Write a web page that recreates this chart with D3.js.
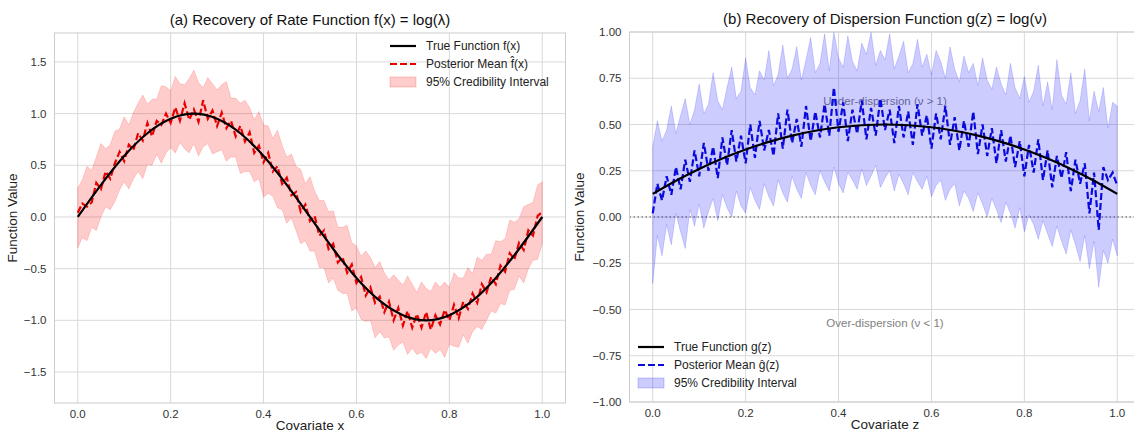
<!DOCTYPE html>
<html>
<head>
<meta charset="utf-8">
<script src="https://cdn.jsdelivr.net/npm/d3@7"></script>
<style>
  body { margin: 0; background: #fff; }
  svg { display: block; font-family: "Liberation Sans", Arial, sans-serif; }
</style>
</head>
<body>
<div id="chart"></div>
<script>
// Sampling grids (covariate values)
const fineGrid = d3.range(101).map(i => i / 100);
const coarseGrid = d3.range(21).map(i => i / 20);

// Panel (a): rate function f(x)
const trueF = [0, 0.31, 0.59, 0.81, 0.95, 1.0, 0.95, 0.81, 0.59, 0.31, 0,
  -0.31, -0.59, -0.81, -0.95, -1.0, -0.95, -0.81, -0.59, -0.31, 0];
const meanF = [0.04, 0.13, 0.10, 0.14, 0.33, 0.27, 0.44, 0.37, 0.52, 0.63,
  0.54, 0.70, 0.65, 0.81, 0.74, 0.91, 0.78, 0.93, 0.89, 1.00,
  0.91, 1.06, 0.93, 1.10, 0.94, 1.04, 0.92, 1.13, 0.95, 1.03,
  0.88, 1.01, 0.86, 0.93, 0.78, 0.88, 0.73, 0.82, 0.62, 0.69,
  0.53, 0.62, 0.44, 0.49, 0.32, 0.38, 0.21, 0.24, 0.05, 0.12,
  -0.04, 0.01, -0.18, -0.13, -0.31, -0.26, -0.44, -0.39, -0.54, -0.46,
  -0.64, -0.58, -0.76, -0.68, -0.83, -0.77, -0.92, -0.82, -1.00, -0.88,
  -1.05, -0.91, -1.07, -0.94, -1.07, -0.92, -1.09, -0.95, -1.04, -0.90,
  -1.00, -0.85, -0.98, -0.82, -0.89, -0.74, -0.83, -0.65, -0.73, -0.58,
  -0.65, -0.47, -0.53, -0.35, -0.41, -0.25, -0.32, -0.13, -0.18, 0.01, 0.05];
const upperF = [0.28, 0.36, 0.49, 0.45, 0.58, 0.71, 0.66, 0.70, 0.83, 0.85,
  0.97, 0.89, 1.01, 1.10, 1.18, 1.09, 1.14, 1.14, 1.27, 1.26,
  1.22, 1.36, 1.29, 1.28, 1.34, 1.42, 1.30, 1.25, 1.35, 1.29,
  1.23, 1.28, 1.31, 1.15, 1.15, 1.10, 1.13, 1.06, 0.94, 1.02,
  0.89, 0.88, 0.76, 0.84, 0.69, 0.58, 0.61, 0.49, 0.46, 0.32,
  0.39, 0.25, 0.16, 0.16, 0.05, 0.06, -0.10, -0.10, -0.08, -0.25,
  -0.28, -0.38, -0.33, -0.39, -0.49, -0.43, -0.54, -0.61, -0.56, -0.61,
  -0.66, -0.57, -0.65, -0.73, -0.63, -0.69, -0.72, -0.63, -0.68, -0.63,
  -0.68, -0.54, -0.59, -0.59, -0.49, -0.55, -0.39, -0.42, -0.36, -0.36,
  -0.23, -0.24, -0.21, -0.03, -0.05, -0.02, 0.10, 0.12, 0.14, 0.31, 0.34];
const lowerF = [-0.30, -0.20, -0.23, -0.10, -0.13, 0.00, 0.10, 0.07, 0.15, 0.26,
  0.34, 0.27, 0.37, 0.44, 0.37, 0.51, 0.50, 0.61, 0.52, 0.62,
  0.67, 0.62, 0.72, 0.66, 0.62, 0.71, 0.59, 0.68, 0.71, 0.61,
  0.63, 0.65, 0.54, 0.58, 0.58, 0.42, 0.44, 0.44, 0.34, 0.37,
  0.19, 0.23, 0.20, 0.09, 0.07, -0.06, -0.01, -0.13, -0.26, -0.23,
  -0.33, -0.33, -0.49, -0.49, -0.64, -0.59, -0.71, -0.74, -0.74, -0.91,
  -0.88, -0.99, -1.01, -1.00, -1.17, -1.11, -1.17, -1.16, -1.29, -1.24,
  -1.21, -1.33, -1.27, -1.33, -1.31, -1.37, -1.27, -1.32, -1.28, -1.36,
  -1.23, -1.25, -1.26, -1.14, -1.22, -1.11, -1.06, -1.09, -1.00, -0.91,
  -0.93, -0.84, -0.85, -0.71, -0.70, -0.57, -0.64, -0.50, -0.42, -0.41, -0.26];

// Panel (b): dispersion function g(z)
const trueG = [0.125, 0.196, 0.26, 0.316, 0.365, 0.406, 0.44, 0.466, 0.485, 0.496, 0.5,
  0.496, 0.485, 0.466, 0.44, 0.406, 0.365, 0.316, 0.26, 0.196, 0.125];
const meanG = [0.02, 0.18, 0.09, 0.22, 0.12, 0.27, 0.15, 0.31, 0.19, 0.36,
  0.22, 0.40, 0.25, 0.38, 0.21, 0.43, 0.28, 0.47, 0.30, 0.44,
  0.29, 0.50, 0.32, 0.52, 0.36, 0.47, 0.33, 0.56, 0.37, 0.58,
  0.40, 0.53, 0.38, 0.60, 0.41, 0.57, 0.43, 0.61, 0.44, 0.70,
  0.46, 0.62, 0.41, 0.58, 0.45, 0.63, 0.42, 0.59, 0.44, 0.64,
  0.47, 0.58, 0.40, 0.60, 0.43, 0.57, 0.39, 0.61, 0.44, 0.55,
  0.37, 0.56, 0.42, 0.60, 0.39, 0.54, 0.36, 0.52, 0.38, 0.57,
  0.34, 0.50, 0.33, 0.48, 0.29, 0.47, 0.30, 0.44, 0.27, 0.41,
  0.22, 0.39, 0.24, 0.42, 0.20, 0.36, 0.16, 0.33, 0.21, 0.35,
  0.14, 0.31, 0.18, 0.29, 0.02, 0.24, -0.07, 0.27, 0.20, 0.24, 0.17];
const upperG = [0.38, 0.52, 0.41, 0.47, 0.60, 0.45, 0.55, 0.64, 0.50, 0.58,
  0.72, 0.56, 0.61, 0.78, 0.63, 0.58, 0.70, 0.81, 0.64, 0.68,
  0.86, 0.70, 0.66, 0.79, 0.74, 0.90, 0.71, 0.77, 0.93, 0.75,
  0.80, 0.92, 0.74, 0.85, 0.97, 0.78, 0.83, 0.99, 0.79, 1.00,
  0.86, 0.81, 0.98, 0.84, 0.79, 0.94, 0.88, 1.00, 0.82, 0.90,
  0.85, 0.99, 0.80, 0.87, 0.95, 0.78, 0.83, 0.96, 0.81, 0.88,
  0.77, 0.90, 0.84, 0.75, 0.92, 0.80, 0.73, 0.87, 0.78, 0.83,
  0.71, 0.86, 0.74, 0.69, 0.81, 0.72, 0.66, 0.83, 0.70, 0.64,
  0.76, 0.62, 0.68, 0.82, 0.60, 0.73, 0.58, 0.85, 0.66, 0.61,
  0.78, 0.56, 0.63, 0.80, 0.52, 0.68, 0.57, 0.70, 0.48, 0.62, 0.60];
const lowerG = [-0.36, -0.10, -0.21, -0.04, -0.15, 0.02, -0.08, -0.17, 0.04, -0.05,
  0.07, -0.06, 0.03, 0.10, -0.02, 0.12, 0.05, 0.00, 0.14, 0.06,
  0.02, 0.16, 0.09, 0.04, 0.18, 0.11, 0.06, 0.20, 0.13, 0.08,
  0.22, 0.15, 0.10, 0.24, 0.17, 0.12, 0.25, 0.19, 0.14, 0.27,
  0.18, 0.13, 0.24, 0.20, 0.15, 0.26, 0.17, 0.22, 0.28, 0.16,
  0.21, 0.25, 0.14, 0.23, 0.18, 0.12, 0.24, 0.19, 0.15, 0.22,
  0.11, 0.17, 0.20, 0.09, 0.15, 0.18, 0.06, 0.14, 0.10, 0.03,
  0.13, 0.07, 0.00, 0.10, 0.04, -0.03, 0.08, 0.02, -0.06, 0.05,
  -0.08, 0.01, -0.04, -0.12, -0.02, -0.09, -0.16, -0.05, -0.13, -0.20,
  -0.07, -0.15, -0.24, -0.10, -0.28, -0.13, -0.38, -0.18, -0.25, -0.12, -0.21];

// Tick values
const xTicks = [0, 0.2, 0.4, 0.6, 0.8, 1.0];
const yTicksF = [-1.5, -1.0, -0.5, 0, 0.5, 1.0, 1.5];
const yTicksG = [-1, -0.75, -0.5, -0.25, 0, 0.25, 0.5, 0.75, 1];

const width = 1134, height = 435;
const svg = d3.select("#chart")
    .append("svg")
    .attr("width", width)
    .attr("height", height);

function drawPanel(cfg) {
    const x = d3.scaleLinear().domain([-0.05, 1.05]).range([cfg.left, cfg.right]);
    const y = d3.scaleLinear().domain(cfg.yDomain).range([cfg.bottom, cfg.top]);
    const g = svg.append("g");

    // clip to plot area
    g.append("clipPath").attr("id", cfg.id + "-clip")
        .append("rect")
        .attr("x", cfg.left).attr("y", cfg.top)
        .attr("width", cfg.right - cfg.left).attr("height", cfg.bottom - cfg.top);

    // grid lines
    g.append("g").selectAll("line").data(xTicks).join("line")
        .attr("x1", d => x(d)).attr("x2", d => x(d))
        .attr("y1", cfg.top).attr("y2", cfg.bottom)
        .attr("stroke", "#d9d9d9").attr("stroke-width", 1);
    g.append("g").selectAll("line").data(cfg.yTicks).join("line")
        .attr("x1", cfg.left).attr("x2", cfg.right)
        .attr("y1", d => y(d)).attr("y2", d => y(d))
        .attr("stroke", "#d9d9d9").attr("stroke-width", 1);

    // tick labels
    g.append("g").selectAll("text").data(xTicks).join("text")
        .attr("x", d => x(d)).attr("y", cfg.bottom + 15)
        .attr("text-anchor", "middle")
        .attr("font-size", "11.5px").attr("fill", "#333")
        .text(d => d3.format(".1f")(d));
    g.append("g").selectAll("text").data(cfg.yTicks).join("text")
        .attr("x", cfg.left - 8).attr("y", d => y(d) + 4)
        .attr("text-anchor", "end")
        .attr("font-size", "11.5px").attr("fill", "#333")
        .text(d => d3.format(cfg.yFormat)(d).replace("-", "\u2212"));

    // axis labels + title
    g.append("text")
        .attr("x", (cfg.left + cfg.right) / 2).attr("y", cfg.bottom + 27)
        .attr("text-anchor", "middle").attr("font-size", "13.5px").attr("fill", "#222")
        .text(cfg.xLabel);
    g.append("text")
        .attr("transform", `translate(${cfg.yLabelX},${(cfg.top + cfg.bottom) / 2}) rotate(-90)`)
        .attr("text-anchor", "middle").attr("font-size", "13.5px").attr("fill", "#222")
        .text("Function Value");
    g.append("text")
        .attr("x", (cfg.left + cfg.right) / 2).attr("y", cfg.top - 8)
        .attr("text-anchor", "middle").attr("font-size", "15px").attr("fill", "#111")
        .text(cfg.title);

    const plot = g.append("g").attr("clip-path", `url(#${cfg.id}-clip)`);

    // annotations sit under the data
    (cfg.notes || []).forEach(n => {
        plot.append("text")
            .attr("x", x(n.x)).attr("y", y(n.y))
            .attr("text-anchor", "middle").attr("dominant-baseline", "middle")
            .attr("font-size", "11.5px").attr("fill", "#808080")
            .text(n.text);
    });
    if (cfg.zeroLine) {
        plot.append("line")
            .attr("x1", cfg.left).attr("x2", cfg.right)
            .attr("y1", y(0)).attr("y2", y(0))
            .attr("stroke", "#555").attr("stroke-width", 1.2)
            .attr("stroke-dasharray", "1.5,2.5");
    }

    // credibility band
    const area = d3.area()
        .x((d, i) => x(fineGrid[i]))
        .y0((d, i) => y(cfg.lower[i]))
        .y1(d => y(d));
    plot.append("path")
        .datum(cfg.upper)
        .attr("d", area)
        .attr("fill", cfg.bandColor)
        .attr("stroke", cfg.bandColor)
        .attr("stroke-width", 0.8);

    // posterior mean
    const meanLine = d3.line()
        .x((d, i) => x(fineGrid[i]))
        .y(d => y(d));
    plot.append("path")
        .datum(cfg.mean)
        .attr("d", meanLine)
        .attr("fill", "none")
        .attr("stroke", cfg.meanColor)
        .attr("stroke-width", 2.2)
        .attr("stroke-dasharray", "7,3");

    // true function
    const trueLine = d3.line()
        .x((d, i) => x(coarseGrid[i]))
        .y(d => y(d))
        .curve(d3.curveNatural);
    plot.append("path")
        .datum(cfg.truth)
        .attr("d", trueLine)
        .attr("fill", "none")
        .attr("stroke", "#000")
        .attr("stroke-width", 2.2);

    // frame
    g.append("rect")
        .attr("x", cfg.left).attr("y", cfg.top)
        .attr("width", cfg.right - cfg.left).attr("height", cfg.bottom - cfg.top)
        .attr("fill", "none").attr("stroke", "#cccccc").attr("stroke-width", 1);

    // legend
    const lg = g.append("g").attr("font-size", "12px").attr("fill", "#222");
    const lx = cfg.legend.x, ly = cfg.legend.y, step = 18;
    lg.append("line").attr("x1", lx).attr("x2", lx + 26).attr("y1", ly).attr("y2", ly)
        .attr("stroke", "#000").attr("stroke-width", 2.2);
    lg.append("line").attr("x1", lx).attr("x2", lx + 26).attr("y1", ly + step).attr("y2", ly + step)
        .attr("stroke", cfg.meanColor).attr("stroke-width", 2.2).attr("stroke-dasharray", "7,3");
    lg.append("rect").attr("x", lx).attr("y", ly + 2 * step - 5).attr("width", 26).attr("height", 10)
        .attr("fill", cfg.bandColor).attr("stroke", cfg.bandColor);
    cfg.legendLabels.forEach((t, i) => {
        lg.append("text").attr("x", lx + 36).attr("y", ly + i * step + 4).text(t);
    });
}

drawPanel({
    id: "pa",
    left: 54.5, right: 565.5, top: 33, bottom: 403,
    yDomain: [-1.80, 1.78], yTicks: yTicksF, yFormat: ".1f",
    title: "(a) Recovery of Rate Function f(x) = log(\u03bb)",
    xLabel: "Covariate x", yLabelX: 17,
    truth: trueF, mean: meanF, upper: upperF, lower: lowerF,
    meanColor: "#e60000", bandColor: "rgba(255,0,0,0.2)",
    legend: { x: 390, y: 46 },
    legendLabels: ["True Function f(x)", "Posterior Mean f\u0302(x)", "95% Credibility Interval"]
});

drawPanel({
    id: "pb",
    left: 629.5, right: 1140.5, top: 32, bottom: 402,
    yDomain: [-1, 1], yTicks: yTicksG, yFormat: ".2f",
    title: "(b) Recovery of Dispersion Function g(z) = log(\u03bd)",
    xLabel: "Covariate z", yLabelX: 584,
    truth: trueG, mean: meanG, upper: upperG, lower: lowerG,
    meanColor: "#0a0adc", bandColor: "rgba(0,0,255,0.2)",
    zeroLine: true,
    notes: [
        { x: 0.5, y: 0.62, text: "Under-dispersion (\u03bd > 1)" },
        { x: 0.5, y: -0.58, text: "Over-dispersion (\u03bd < 1)" }
    ],
    legend: { x: 638, y: 347 },
    legendLabels: ["True Function g(z)", "Posterior Mean \u011d(z)", "95% Credibility Interval"]
});
</script>
</body>
</html>
